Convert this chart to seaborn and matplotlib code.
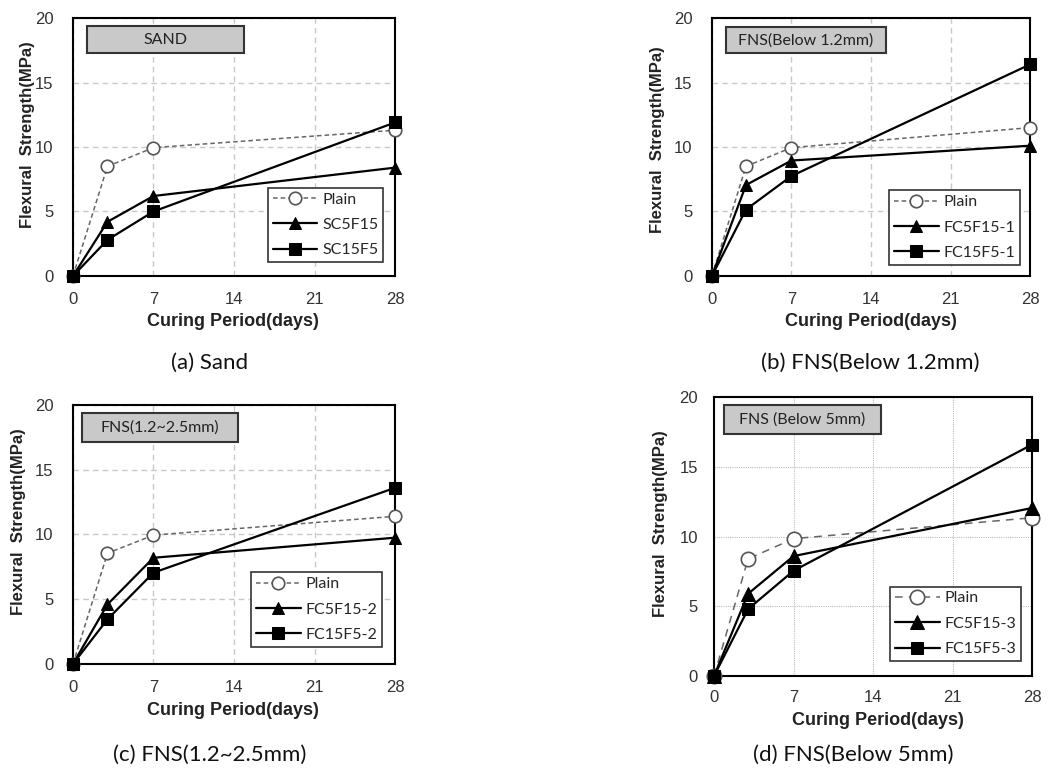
import matplotlib
matplotlib.use("Agg")
import matplotlib.pyplot as plt
import seaborn as sns
from matplotlib.patches import Rectangle

# ---------------- data ----------------
days = [0, 3, 7, 28]
x_ticks = [0, 7, 14, 21, 28]
y_ticks = [0, 5, 10, 15, 20]

plain_a = [0, 8.5, 9.95, 11.3]
sc5f15 = [0, 4.2, 6.2, 8.4]
sc15f5 = [0, 2.8, 5.0, 11.9]

plain_b = [0, 8.5, 9.95, 11.5]
fc5f15_1 = [0, 7.05, 8.95, 10.1]
fc15f5_1 = [0, 5.15, 7.75, 16.4]

plain_c = [0, 8.55, 9.95, 11.4]
fc5f15_2 = [0, 4.6, 8.2, 9.75]
fc15f5_2 = [0, 3.45, 7.05, 13.6]

plain_d = [0, 8.4, 9.85, 11.35]
fc5f15_3 = [0, 5.9, 8.6, 12.05]
fc15f5_3 = [0, 4.8, 7.55, 16.6]

labels_a = ["Plain", "SC5F15", "SC15F5"]
labels_b = ["Plain", "FC5F15-1", "FC15F5-1"]
labels_c = ["Plain", "FC5F15-2", "FC15F5-2"]
labels_d = ["Plain", "FC5F15-3", "FC15F5-3"]

titles = ["SAND", "FNS(Below 1.2mm)", "FNS(1.2~2.5mm)", "FNS (Below 5mm)"]
captions = ["(a) Sand", "(b) FNS(Below 1.2mm)", "(c) FNS(1.2~2.5mm)", "(d) FNS(Below 5mm)"]
x_label = "Curing Period(days)"
y_label = "Flexural  Strength(MPa)"

# ---------------- style ----------------
sns.set_style("white")
plt.rcParams["font.family"] = ["Liberation Sans", "DejaVu Sans"]

fig = plt.figure(figsize=(10.5, 7.7), dpi=100)

panels = [
    dict(rect=[0.0695, 0.6416, 0.3067, 0.335], series=(plain_a, sc5f15, sc15f5), labels=labels_a,
         box=(0.043, 0.864, 0.488, 0.105), leg=(0.963, 0.054), ylab=(-0.14, 0.547), xlab=(0.497, -0.178),
         cap=(210 / 1050, 1 - 363 / 770), v="dash"),
    dict(rect=[0.678, 0.6416, 0.303, 0.335], series=(plain_b, fc5f15_1, fc15f5_1), labels=labels_b,
         box=(0.044, 0.864, 0.503, 0.101), leg=(0.969, 0.043), ylab=(-0.172, 0.527), xlab=(0.5, -0.178),
         cap=(870 / 1050, 1 - 363 / 770), v="dash"),
    dict(rect=[0.0695, 0.1377, 0.3067, 0.3364], series=(plain_c, fc5f15_2, fc15f5_2), labels=labels_c,
         box=(0.028, 0.857, 0.484, 0.112), leg=(0.96, 0.066), ylab=(-0.17, 0.548), xlab=(0.497, -0.178),
         cap=(210 / 1050, 1 - 755 / 770), v="dash"),
    dict(rect=[0.68, 0.122, 0.303, 0.3623], series=(plain_d, fc5f15_3, fc15f5_3), labels=labels_d,
         box=(0.031, 0.867, 0.494, 0.104), leg=(0.965, 0.054), ylab=(-0.169, 0.545), xlab=(0.516, -0.158),
         cap=(853 / 1050, 1 - 755 / 770), v="dot"),
]

for i, p in enumerate(panels):
    ax = fig.add_axes(p["rect"])
    d = p["v"] == "dot"
    plain, s1, s2 = p["series"]
    big = 1.15 if d else 1.0

    sns.lineplot(x=days, y=plain, ax=ax, color="#666666", lw=1.1,
                 linestyle=(0, (5, 4)) if d else (0, (3, 2)),
                 marker="o", markersize=9 * big, markerfacecolor="white",
                 markeredgecolor="#555555", markeredgewidth=1.2,
                 label=p["labels"][0], clip_on=False, zorder=3)
    sns.lineplot(x=days, y=s1, ax=ax, color="black", lw=1.6, marker="^",
                 markersize=8.5 * big, markeredgecolor="black",
                 label=p["labels"][1], clip_on=False, zorder=4)
    sns.lineplot(x=days, y=s2, ax=ax, color="black", lw=1.6, marker="s",
                 markersize=8.2 if not d else 8.0, markeredgecolor="black",
                 label=p["labels"][2], clip_on=False, zorder=5)

    ax.set_xlim(0, 28)
    ax.set_ylim(0, 20)
    ax.set_xticks(x_ticks)
    ax.set_yticks(y_ticks)
    ax.set_axisbelow(True)
    if d:
        ax.grid(True, color="#bdbdbd", linestyle=(0, (1, 1)), lw=0.8)
        ax.tick_params(axis="x", direction="in", length=5, width=1.2, pad=10,
                       labelsize=12, labelcolor="#333333")
        ax.tick_params(axis="y", direction="in", length=5, width=1.2, pad=11.5,
                       labelsize=12, labelcolor="#333333")
    else:
        ax.grid(True, color="#c8c8c8", linestyle=(0, (4, 3)), lw=1.0)
        ax.tick_params(axis="x", direction="in", length=5, width=1.2, pad=11.5,
                       labelsize=12, labelcolor="#333333")
        ax.tick_params(axis="y", direction="out", length=5, width=1.2, pad=9,
                       labelsize=12, labelcolor="#333333")
    for s in ax.spines.values():
        s.set_visible(True)
        s.set_color("black")
        s.set_linewidth(1.5)

    ax.set_xlabel(x_label, fontsize=13, fontweight="bold", color="#222222", va="center")
    ax.set_ylabel(y_label, fontsize=12, fontweight="bold", color="#222222", va="center")
    ax.xaxis.set_label_coords(*p["xlab"])
    ax.yaxis.set_label_coords(*p["ylab"])

    # title box
    bx, by, bw, bh = p["box"]
    ax.add_patch(Rectangle((bx, by), bw, bh, transform=ax.transAxes, facecolor="#c9c9c9",
                           edgecolor="#333333", lw=1.5, zorder=6, clip_on=False))
    ax.text(bx + bw / 2, by + bh / 2, titles[i], transform=ax.transAxes, ha="center", va="center",
            fontsize=11.5, family=["Lato", "DejaVu Sans"], color="#222222", zorder=7)

    handles = ax.get_lines()[:3]
    leg = ax.legend(handles=handles, labels=p["labels"], loc="lower right",
                    bbox_to_anchor=p["leg"], borderaxespad=0, frameon=True, fancybox=False,
                    edgecolor="#333333", framealpha=1, handlelength=2.8, handletextpad=0.3,
                    labelspacing=0.7, borderpad=0.3,
                    prop={"family": ["Lato", "DejaVu Sans"], "size": 11.5})
    leg.get_frame().set_linewidth(1.2)
    leg.set_zorder(8)

    fig.text(p["cap"][0], p["cap"][1], captions[i], ha="center", va="center",
             fontsize=16, family=["Lato", "DejaVu Sans"], color="#111111")

fig.savefig("out.png", dpi=100, facecolor="white")
